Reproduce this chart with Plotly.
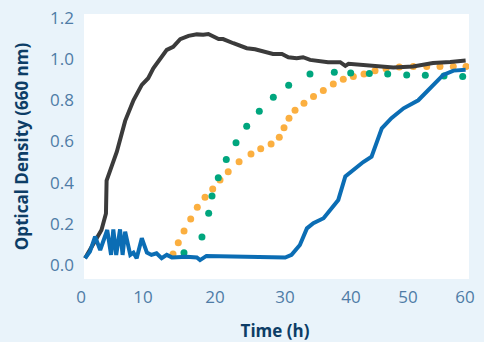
import plotly.graph_objects as go

# Black curve
black_x = [0.63, 1.9, 3.2, 3.9, 4.0, 4.8, 5.6, 6.9, 8.2, 9.5, 10.5, 11.3, 12.3, 13.4, 14.4, 15.5,
           16.8, 18.1, 19.1, 19.9, 21.5, 22.2, 23.8, 25.9, 27.2, 29.0, 30.0, 31.4, 32.4, 33.7, 34.7,
           35.8, 37.3, 38.6, 40.5, 41.3, 41.8, 43.6, 46.2, 48.8, 51.9, 53.5, 55.0, 57.7, 60.1]
black_y = [0.033, 0.097, 0.17, 0.25, 0.41, 0.48, 0.55, 0.70, 0.80, 0.875, 0.907, 0.955, 0.996, 1.045,
           1.06, 1.097, 1.113, 1.12, 1.118, 1.122, 1.097, 1.097, 1.077, 1.053, 1.048, 1.032, 1.025,
           1.025, 1.009, 1.004, 1.009, 0.996, 0.991, 0.985, 0.985, 0.967, 0.977, 0.972, 0.964, 0.959,
           0.964, 0.975, 0.981, 0.986, 0.993]

# Blue curve
blue_x = [0.63, 1.4, 2.2, 3.0, 4.1, 4.7, 5.05, 5.5, 6.1, 6.5, 6.9, 7.7, 8.2, 8.7, 9.5, 10.3, 11.0,
          11.8, 12.6, 13.4, 14.2, 16.5, 18.1, 18.6, 19.6, 23.8, 31.9, 32.9, 34.2, 35.3, 36.3, 37.9,
          39.4, 40.2, 41.3, 42.5, 44.1, 45.4, 47.0, 48.5, 50.4, 52.7, 54.5, 56.6, 58.2, 60.1]
blue_y = [0.033, 0.065, 0.138, 0.073, 0.17, 0.049, 0.173, 0.049, 0.173, 0.049, 0.162, 0.049, 0.06,
          0.033, 0.13, 0.06, 0.049, 0.057, 0.033, 0.049, 0.037, 0.04, 0.037, 0.024, 0.044, 0.04,
          0.036, 0.049, 0.097, 0.178, 0.203, 0.227, 0.29, 0.316, 0.43, 0.46, 0.50, 0.526, 0.664,
          0.713, 0.761, 0.80, 0.859, 0.923, 0.944, 0.948]

# Orange dots
orange_x = [14.38, 15.2, 16.1, 17.14, 18.17, 19.38, 20.58, 21.72, 23.0, 24.7, 26.56, 28.08, 29.7,
            30.98, 31.72, 32.5, 33.44, 34.84, 36.33, 37.86, 39.42, 40.98, 42.55, 44.22, 45.94,
            47.66, 49.73, 51.92, 54.02, 56.09, 58.17, 60.16]
orange_y = [0.053, 0.108, 0.165, 0.223, 0.280, 0.329, 0.369, 0.413, 0.453, 0.501, 0.539, 0.564,
            0.588, 0.621, 0.667, 0.713, 0.751, 0.785, 0.818, 0.848, 0.879, 0.902, 0.915, 0.928,
            0.943, 0.953, 0.962, 0.964, 0.964, 0.964, 0.964, 0.964]

# Green dots
green_x = [16.09, 18.9, 19.95, 20.47, 21.45, 22.7, 24.22, 25.89, 27.86, 30.05, 32.45, 35.78, 39.58,
           42.14, 45.05, 47.92, 50.89, 53.8, 56.72, 59.64]
green_y = [0.060, 0.136, 0.251, 0.335, 0.424, 0.512, 0.594, 0.674, 0.747, 0.815, 0.873, 0.928,
           0.936, 0.933, 0.930, 0.927, 0.923, 0.921, 0.918, 0.915]

# Axis ticks (label positions as drawn in the original)
x_tick_vals = [0, 9.69, 20.94, 31.88, 42.19, 51.09, 60]
x_tick_text = ["0", "10", "20", "30", "40", "50", "60"]
y_tick_vals = [0.0, 0.2, 0.4, 0.6, 0.8, 1.0, 1.2]
y_tick_text = ["0.0", "0.2", "0.4", "0.6", "0.8", "1.0", "1.2"]

BG = "#E9F3FA"
TICK_COLOR = "#4F7CA6"
TITLE_COLOR = "#0D3D66"

X_MIN, X_PLOT_MIN, X_MAX = 0, 0.47, 60.625

fig = go.Figure()
fig.add_trace(go.Scatter(x=orange_x, y=orange_y, mode="markers",
                         marker=dict(color="#FBAF40", size=7), showlegend=False))
fig.add_trace(go.Scatter(x=green_x, y=green_y, mode="markers",
                         marker=dict(color="#00A67E", size=7), showlegend=False))
fig.add_trace(go.Scatter(x=black_x, y=black_y, mode="lines",
                         line=dict(color="#3B3B3B", width=4), showlegend=False))
fig.add_trace(go.Scatter(x=blue_x, y=blue_y, mode="lines",
                         line=dict(color="#0B6DB4", width=4), showlegend=False))

# white plotting panel
fig.add_shape(type="rect", xref="x", yref="paper", x0=X_PLOT_MIN, x1=X_MAX, y0=0, y1=1,
              fillcolor="white", line=dict(width=0), layer="below")

fig.update_layout(
    width=484, height=342,
    margin=dict(l=81, r=15, t=14, b=63, autoexpand=False),
    paper_bgcolor=BG, plot_bgcolor=BG,
    font=dict(family="Open Sans", size=17, color=TICK_COLOR),
    xaxis=dict(range=[X_MIN, X_MAX], tickvals=x_tick_vals, ticktext=x_tick_text,
               showgrid=False, zeroline=False, showline=False, ticks="",
               ticklabelstandoff=6, automargin=False,
               tickfont=dict(family="Open Sans", size=17, color=TICK_COLOR),
               title=dict(text="<b>Time (h)</b>", font=dict(family="Open Sans", size=17, color=TITLE_COLOR), standoff=21)),
    yaxis=dict(range=[-0.068, 1.219], tickvals=y_tick_vals, ticktext=y_tick_text,
               showgrid=False, zeroline=False, showline=False, ticks="",
               ticklabelstandoff=6, automargin=False,
               tickfont=dict(family="Open Sans", size=17, color=TICK_COLOR),
               title=dict(text="<b>Optical Density (660 nm)</b>", font=dict(family="Open Sans", size=17, color=TITLE_COLOR), standoff=17)),
)

fig.write_html("out.html", config={"displayModeBar": False},
               post_script="document.body.style.margin='0';document.body.style.overflow='hidden';")
